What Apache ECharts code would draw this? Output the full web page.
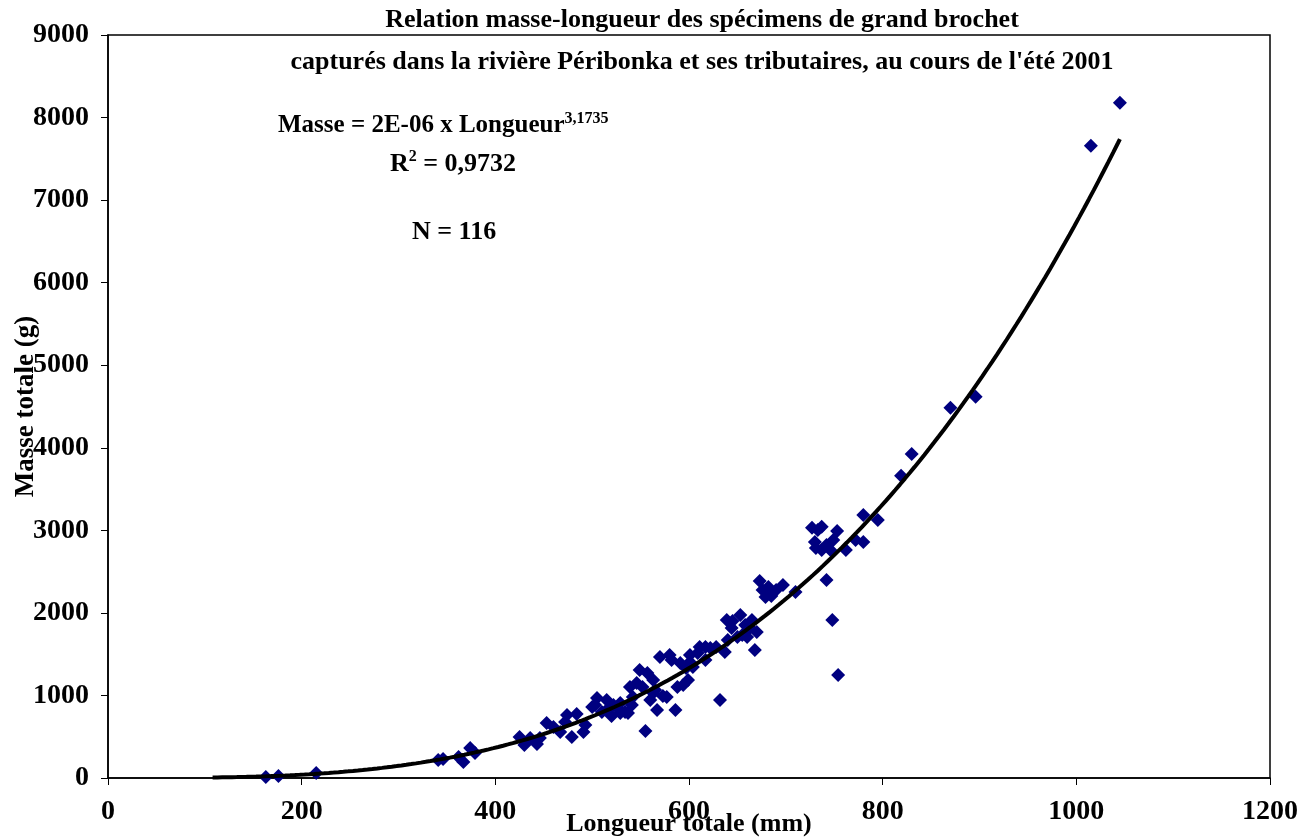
<!DOCTYPE html>
<html>
<head>
<meta charset="utf-8">
<script src="https://cdn.jsdelivr.net/npm/echarts@6/dist/echarts.min.js"></script>
<style>
html,body{margin:0;padding:0;background:#fff;}
#chart{width:1299px;height:838px;}
</style>
</head>
<body>
<div id="chart"></div>
<script>
// Specimen lengths (mm) and masses (g)
var lengths = [163,176,215,341,346,362,367,374,379,425,430,436,443,446,453,460,467,474,479,484,
  491,500,505,510,515,522,529,529,537,539,546,549,557,555,563,563,567,570,577,580,
  586,588,591,597,604,611,617,628,632,637,639,644,653,660,668,673,679,682,697,710,
  727,737,730,737,746,753,762,780,780,795,742,748,754,819,830,870,896,1015,1045,
  520,527,534,542,552,560,565,573,582,594,599,601,609,622,645,650,655,663,665,670,
  676,685,690,658,733,731,742,749,772,493,503,472,515,541,601,617,640];
var masses = [12,24,61,218,230,255,194,364,303,497,400,485,412,485,666,618,557,763,497,776,
  557,860,969,800,824,885,909,788,788,1103,1151,1309,1272,570,1188,1030,824,1466,982,1491,
  824,1103,1394,1333,1345,1587,1587,1587,945,1527,1915,1818,1975,1709,1551,2387,2193,2315,2339,2254,
  3030,3042,2860,2763,2763,2993,2763,3187,2860,3126,2399,1915,1248,3660,3926,4484,4617,7659,8180,
  751,836,800,982,1103,945,1066,994,1430,1127,1188,1406,1515,1575,1903,1709,1733,1818,1915,1769,
  2278,2205,2278,1854,3005,2787,2823,2884,2884,642,885,679,945,885,1490,1430,1672];

// Power trend line: Masse = a x Longueur^b
var trendA = 2.03e-6;
var trendB = 3.1735;
var trendStart = 108, trendEnd = 1045, trendStep = 5;

var xTicks = {min:0, max:1200, interval:200};
var yTicks = {min:0, max:9000, interval:1000};

var scatterData = lengths.map(function(l,i){return [l, masses[i]];});
var trendData = [];
for (var x = trendStart; x <= trendEnd; x += trendStep) trendData.push([x, trendA*Math.pow(x, trendB)]);
trendData.push([trendEnd, trendA*Math.pow(trendEnd, trendB)]);

var serif = '"Liberation Serif","Times New Roman",serif';
var plain = function(v){return String(v);};
var chart = echarts.init(document.getElementById('chart'), null, {renderer:'canvas'});
chart.setOption({
  animation:false,
  backgroundColor:'#fff',
  grid:{left:108, right:29, top:35, bottom:60, containLabel:false, outerBoundsMode:'none',
    show:true, borderColor:'#000', borderWidth:1.5, backgroundColor:'transparent'},
  xAxis:{type:'value', min:xTicks.min, max:xTicks.max, interval:xTicks.interval,
    name:'Longueur totale (mm)', nameLocation:'middle', nameGap:33, nameMoveOverlap:false,
    nameTextStyle:{fontFamily:serif, fontWeight:'bold', fontSize:26, color:'#000'},
    axisLine:{show:true, onZero:false, lineStyle:{color:'#000', width:1.5}},
    axisTick:{show:true, inside:false, length:7, lineStyle:{color:'#000'}},
    axisLabel:{fontFamily:serif, fontWeight:'bold', fontSize:28, color:'#000', margin:20, formatter:plain},
    splitLine:{show:false}},
  yAxis:{type:'value', min:yTicks.min, max:yTicks.max, interval:yTicks.interval,
    name:'Masse totale (g)', nameLocation:'middle', nameGap:68, nameMoveOverlap:false,
    nameTextStyle:{fontFamily:serif, fontWeight:'bold', fontSize:27, color:'#000'},
    axisLine:{show:true, onZero:false, lineStyle:{color:'#000', width:1.5}},
    axisTick:{show:true, inside:false, length:7, lineStyle:{color:'#000'}},
    axisLabel:{fontFamily:serif, fontWeight:'bold', fontSize:28, color:'#000', margin:19, formatter:plain},
    splitLine:{show:false}},
  title:{text:"Relation masse-longueur des spécimens de grand brochet\ncapturés dans la rivière Péribonka et ses tributaires, au cours de l'été 2001",
    left:697, top:-6, textAlign:'center',
    textStyle:{fontFamily:serif, fontWeight:'bold', fontSize:26, color:'#000', lineHeight:42}},
  graphic:[
    {type:'text', left:278, top:111, style:{
      text:'{b|Masse = 2E-06 x Longueur}{s|3,1735}',
      rich:{b:{fontFamily:serif, fontWeight:'bold', fontSize:25, fill:'#000'},
            s:{fontFamily:serif, fontWeight:'bold', fontSize:16, fill:'#000', padding:[0,0,14,0]}}}},
    {type:'text', left:390, top:149, style:{
      text:'{b|R}{s|2}{b| = 0,9732}',
      rich:{b:{fontFamily:serif, fontWeight:'bold', fontSize:26, fill:'#000'},
            s:{fontFamily:serif, fontWeight:'bold', fontSize:16, fill:'#000', padding:[0,0,14,0]}}}},
    {type:'text', left:412, top:219, style:{text:'N = 116', fontFamily:serif, fontWeight:'bold', fontSize:26, fill:'#000'}}
  ],
  series:[
    {type:'scatter', data:scatterData, symbol:'diamond', symbolSize:14, itemStyle:{color:'#000080', opacity:1}, z:2},
    {type:'line', data:trendData, showSymbol:false, smooth:false, lineStyle:{color:'#000', width:4}, z:3}
  ]
});
</script>
</body>
</html>
